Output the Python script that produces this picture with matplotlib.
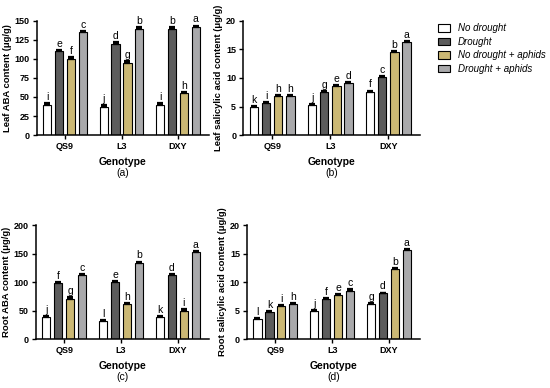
import numpy as np
import matplotlib.pyplot as plt
from matplotlib.patches import Patch

# data
genotypes = ["QS9", "L3", "DXY"]
treatments = ["No drought", "Drought", "No drought + aphids", "Drought + aphids"]
colors = ["#ffffff", "#5c5c5c", "#cbb874", "#a9a9ab"]

# values per treatment, order QS9, L3, DXY
leaf_aba = [[40, 37, 40], [110, 120, 140], [100, 95, 55], [135, 140, 142]]
leaf_aba_err = [[2, 2, 2], [2, 2, 2], [2, 2, 2], [2, 2, 2]]
leaf_aba_let = [["i", "j", "i"], ["e", "d", "b"], ["f", "g", "h"], ["c", "b", "a"]]

leaf_sa = [[4.9, 5.2, 7.6], [5.7, 7.5, 10.2], [6.8, 8.6, 14.5], [6.9, 9.1, 16.3]]
leaf_sa_err = [[0.15, 0.2, 0.2], [0.15, 0.2, 0.15], [0.15, 0.15, 0.2], [0.15, 0.2, 0.2]]
leaf_sa_let = [["k", "j", "f"], ["i", "g", "c"], ["h", "e", "b"], ["h", "d", "a"]]

root_aba = [[39, 31, 38], [98, 100, 112], [71, 61, 50], [112, 134, 153]]
root_aba_err = [[2, 2, 2], [2, 2, 2], [2, 2, 2], [2, 2, 2]]
root_aba_let = [["j", "l", "k"], ["f", "e", "d"], ["g", "h", "i"], ["c", "b", "a"]]

root_sa = [[3.5, 5.0, 6.2], [4.7, 7.1, 8.0], [5.8, 7.8, 12.3], [6.1, 8.5, 15.6]]
root_sa_err = [[0.15, 0.15, 0.15], [0.15, 0.15, 0.15], [0.15, 0.15, 0.2], [0.15, 0.2, 0.2]]
root_sa_let = [["l", "j", "g"], ["k", "f", "d"], ["i", "e", "b"], ["h", "c", "a"]]

panels = [
    ([0.067, 0.652, 0.313, 0.294], leaf_aba, leaf_aba_err, leaf_aba_let,
     "Leaf ABA content (μg/g)", 150, 25, "(a)"),
    ([0.442, 0.652, 0.322, 0.294], leaf_sa, leaf_sa_err, leaf_sa_let,
     "Leaf salicylic acid content (μg/g)", 20, 5, "(b)"),
    ([0.065, 0.126, 0.315, 0.294], root_aba, root_aba_err, root_aba_let,
     "Root ABA content (μg/g)", 200, 50, "(c)"),
    ([0.449, 0.126, 0.315, 0.294], root_sa, root_sa_err, root_sa_let,
     "Root salicylic acid content (μg/g)", 20, 5, "(d)"),
]

plt.rcParams["font.family"] = ["Liberation Sans", "DejaVu Sans"]

fig = plt.figure(figsize=(5.5, 3.88), dpi=100)

x = np.arange(len(genotypes))
step = 0.21
width = 0.145

for rect, vals, errs, lets, ylabel, ymax, ystep, tag in panels:
    ax = fig.add_axes(rect)
    for i in range(4):
        xs = x + (i - 1.5) * step
        ax.bar(xs, vals[i], width, color=colors[i], edgecolor="black",
               linewidth=0.8, zorder=2)
        ax.errorbar(xs, vals[i], yerr=[np.zeros(3), errs[i]], fmt="none",
                    ecolor="black", elinewidth=0.8, capsize=2.3,
                    capthick=1.6, zorder=3)
        for xx, v, e, l in zip(xs, vals[i], errs[i], lets[i]):
            ax.text(xx, v + e + ymax * 0.01, l, ha="center", va="bottom",
                    fontsize=7.5)
    ax.set_xlim(-0.5, 2.55)
    ax.set_ylim(0, ymax)
    ax.set_yticks(np.arange(0, ymax + 1, ystep))
    ax.set_xticks(x)
    ax.set_xticklabels(genotypes, fontsize=6.5, fontweight="bold")
    for t in ax.get_yticklabels():
        t.set_fontsize(6.5)
        t.set_fontweight("bold")
    ax.spines["top"].set_visible(False)
    ax.spines["right"].set_visible(False)
    ax.spines["left"].set_linewidth(1.1)
    ax.spines["bottom"].set_linewidth(1.1)
    ax.tick_params(direction="out", length=3, width=1, pad=2)
    ax.set_ylabel(ylabel, fontsize=6.8, fontweight="bold", labelpad=2)
    ax.set_xlabel("Genotype", fontsize=7.5, fontweight="bold", labelpad=4)
    ax.text(0.5, -0.335, tag, transform=ax.transAxes, ha="center",
            va="center", fontsize=7.5)

handles = [Patch(facecolor=c, edgecolor="black", linewidth=0.8) for c in colors]
leg = fig.legend(handles, treatments, loc="upper left",
                 bbox_to_anchor=(0.78, 0.962), frameon=False,
                 handlelength=1.3, handleheight=0.8, handletextpad=0.8,
                 labelspacing=0.35, prop={"size": 7, "style": "italic"})

fig.savefig("out.png", dpi=100)
